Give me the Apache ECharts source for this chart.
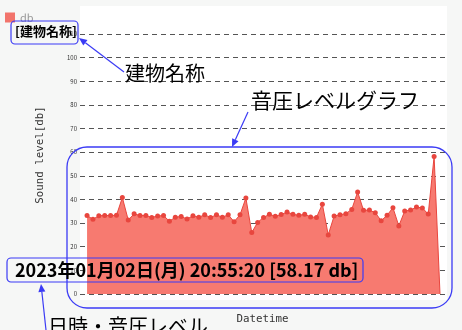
<!DOCTYPE html>
<html>
<head>
<meta charset="utf-8">
<script src="https://cdn.jsdelivr.net/npm/echarts@6/dist/echarts.min.js"></script>
<style>
html,body{margin:0;padding:0;background:#f6f7f6;}
#chart{width:462px;height:330px;}
</style>
</head>
<body>
<div id="chart"></div>
<script>
// ---- data ----
const seriesName = 'db';
const buildingTitle = '[建物名称]';
const yTicks = [0, 10, 20, 30, 40, 50, 60, 70, 80, 90, 100, 110];
const soundLevels = [33.2, 31.6, 33.1, 33.2, 33.2, 33.3, 40.8, 31.3, 33.9, 33.2,
  33.2, 32.4, 33.0, 33.2, 30.8, 32.5, 32.8, 31.7, 33.1, 32.5,
  33.5, 32.4, 33.5, 32.5, 33.5, 30.6, 33.5, 40.6, 26.0, 30.3,
  32.4, 33.7, 32.9, 33.6, 34.7, 33.7, 33.3, 33.7, 32.6, 32.4,
  38.0, 25.0, 33.0, 33.5, 34.0, 35.8, 43.2, 35.4, 35.5, 34.4,
  31.0, 33.3, 36.5, 28.8, 35.1, 35.5, 36.8, 36.4, 33.8, 58.17, 0];
const statusLabel = '2023年01月02日(月) 20:55:20 [58.17 db]';
const noteBuilding = '建物名称';
const noteGraph = '音圧レベルグラフ';
const noteStatus = '日時・音圧レベル';
const xAxisName = 'Datetime';
const yAxisName = 'Sound level[db]';

// ---- chart ----
const chart = echarts.init(document.getElementById('chart'), null, {renderer: 'canvas'});
const BLUE = '#3b3bf5';
const JP = '"Noto Sans CJK JP", "Noto Sans", sans-serif';
const MONO = '"DejaVu Sans Mono", monospace';

function arrow(x1, y1, x2, y2) {
  const ang = Math.atan2(y2 - y1, x2 - x1);
  const L = 8, W = 3.5;
  const bx = x2 - L * Math.cos(ang), by = y2 - L * Math.sin(ang);
  const px = -Math.sin(ang) * W, py = Math.cos(ang) * W;
  return [
    {type: 'line', shape: {x1: x1, y1: y1, x2: bx, y2: by}, style: {stroke: BLUE, lineWidth: 1.2}, z: 100},
    {type: 'polygon', shape: {points: [[x2, y2], [bx + px, by + py], [bx - px, by - py]]}, style: {fill: BLUE}, z: 100}
  ];
}

const graphics = [
  {type: 'rect', shape: {x: 80, y: 6, width: 367, height: 294}, style: {fill: '#ffffff'}, z: -100},
  {type: 'text', x: 40, y: 155, rotation: Math.PI / 2,
    style: {text: yAxisName, font: '10.8px ' + MONO, fill: '#333', textAlign: 'center', textVerticalAlign: 'middle'}, z: 50},
  // annotation boxes
  {type: 'rect', shape: {x: 11, y: 21, width: 67, height: 23, r: 4}, style: {fill: 'none', stroke: BLUE, lineWidth: 1.2}, z: 100},
  {type: 'rect', shape: {x: 67, y: 147, width: 385, height: 161, r: 20}, style: {fill: 'none', stroke: BLUE, lineWidth: 1.3}, z: 100},
  {type: 'rect', shape: {x: 7, y: 258, width: 356, height: 24, r: 4}, style: {fill: 'none', stroke: BLUE, lineWidth: 1.2}, z: 100},
  {type: 'text', x: 15, y: 270, style: {text: statusLabel, font: 'bold 18px ' + JP, fill: '#000', textVerticalAlign: 'middle'}, z: 101},
  {type: 'text', x: 125, y: 73, style: {text: noteBuilding, font: '20px ' + JP, fill: '#000', textVerticalAlign: 'middle'}, z: 101},
  {type: 'text', x: 251, y: 100, style: {text: noteGraph, font: '21px ' + JP, fill: '#000', textVerticalAlign: 'middle'}, z: 101},
  {type: 'text', x: 48, y: 326, style: {text: noteStatus, font: '20px ' + JP, fill: '#000', textVerticalAlign: 'middle'}, z: 101}
].concat(arrow(124, 72, 79, 38), arrow(248, 112, 232, 147), arrow(46, 330, 41, 284));

const option = {
  animation: false,
  backgroundColor: '#f6f7f6',
  title: {
    text: buildingTitle, left: 15, top: 25, padding: 0,
    textStyle: {fontFamily: JP, fontSize: 13, fontWeight: 'bold', color: '#000'}
  },
  legend: {
    data: [{name: seriesName, itemStyle: {color: '#f2746c'}}], left: 5, top: 12, padding: 0, icon: 'rect',
    itemWidth: 10, itemHeight: 10, itemGap: 5,
    textStyle: {fontSize: 11, color: '#999', fontFamily: JP}
  },
  grid: {left: 80, right: 17, top: 34, bottom: 32, containLabel: false},
  xAxis: {
    type: 'value', min: -1.2, max: 60.85,
    name: xAxisName, nameLocation: 'middle', nameGap: 20,
    nameTextStyle: {fontFamily: MONO, fontSize: 10.8, color: '#333'},
    axisLine: {show: false}, axisTick: {show: false}, axisLabel: {show: false}, splitLine: {show: false}
  },
  yAxis: {
    type: 'value', min: yTicks[0], max: yTicks[yTicks.length - 1], interval: 10,
    axisLine: {show: false}, axisTick: {show: false},
    axisLabel: {fontSize: 6, color: '#333', margin: 3, fontFamily: JP},
    splitLine: {lineStyle: {type: [5, 4], color: '#555', width: 1}}
  },
  series: [{
    name: seriesName, type: 'line',
    data: soundLevels.map((v, i) => [i, v]),
    symbol: 'circle',
    symbolSize: function (d) { return d[1] > 0 ? 5 : 0; },
    showSymbol: true,
    lineStyle: {color: '#e8463e', width: 1},
    itemStyle: {color: '#e8463e'},
    areaStyle: {color: '#f77a70', opacity: 1},
    z: 5
  }],
  graphic: {elements: graphics}
};
chart.setOption(option);
</script>
</body>
</html>
